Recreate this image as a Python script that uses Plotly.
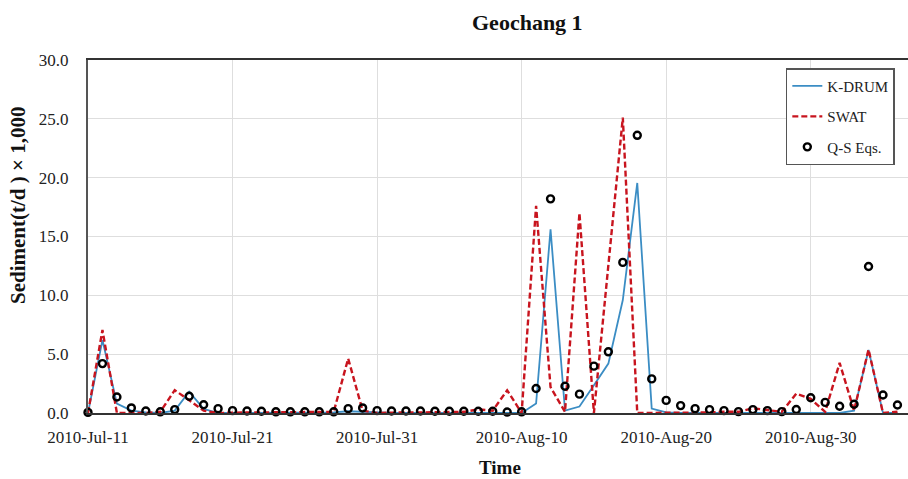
import datetime as dt
import plotly.graph_objects as go

# Daily sediment load (t/d x 1,000), Geochang 1, from 2010-07-11
start = dt.date(2010, 7, 11)
dates = [(start + dt.timedelta(days=i)).isoformat() for i in range(57)]

k_drum = [0, 6.2, 0.8, 0.2, 0.05, 0, 0.2, 1.81, 0.35, 0,
          0, 0, 0, 0, 0, 0, 0, 0.05, 0.15, 0.1,
          0, 0, 0, 0, 0, 0, 0, 0, 0, 0,
          0, 0.8, 15.6, 0.2, 0.55, 2.36, 4.2, 9.6, 19.55, 0.37,
          0.05, 0, 0, 0, 0, 0, 0, 0, 0, 0,
          0, 0, 0, 0.2, 5.35, 0, 0]

swat = [0, 7.05, 0, 0, 0, 0.1, 1.94, 1.08, 0.2, 0,
        0.05, 0.05, 0.05, 0.05, 0.05, 0.05, 0.05, 0.1, 4.63, 0.2,
        0, 0.05, 0.05, 0.05, 0.05, 0.05, 0.1, 0.3, 0.2, 1.93,
        0, 17.6, 2.2, 0.1, 17.0, 0, 12.5, 25.1, 0, 0,
        0, 0, 0, 0.05, 0.1, 0.1, 0.4, 0.25, 0.1, 1.65,
        1.2, 0.1, 4.26, 0.2, 5.4, 0, 0.1]

qs_eqs = [0.05, 4.2, 1.36, 0.43, 0.17, 0.1, 0.29, 1.42, 0.7, 0.37,
          0.2, 0.17, 0.15, 0.1, 0.1, 0.1, 0.1, 0.1, 0.37, 0.43,
          0.2, 0.17, 0.17, 0.17, 0.15, 0.15, 0.15, 0.15, 0.15, 0.08,
          0.1, 2.08, 18.2, 2.27, 1.6, 3.98, 5.2, 12.8, 23.6, 2.9,
          1.07, 0.63, 0.37, 0.29, 0.2, 0.12, 0.29, 0.2, 0.12, 0.3,
          1.3, 0.9, 0.57, 0.74, 12.45, 1.53, 0.68]

SERIF = "Liberation Serif, Times New Roman, serif"

fig = go.Figure()
fig.add_trace(go.Scatter(
    x=dates, y=k_drum, name="K-DRUM", mode="lines", legendgroup="a",
    line=dict(color="#3b8dc4", width=1.8),
))
fig.add_trace(go.Scatter(
    x=dates, y=swat, name="SWAT", mode="lines", legendgroup="b",
    line=dict(color="#c8141e", width=2.4, dash="6px,3px"),
))
fig.add_trace(go.Scatter(
    x=dates, y=qs_eqs, name="Q-S Eqs.", mode="markers", legendgroup="c",
    marker=dict(symbol="circle-open", size=7, color="black",
                line=dict(width=2.4, color="black")),
    cliponaxis=False,
))

x_end = (dt.datetime(2010, 7, 11) + dt.timedelta(days=56.73)).isoformat()

fig.update_layout(
    width=908, height=479,
    margin=dict(l=88, r=0, t=60, b=66),
    plot_bgcolor="white", paper_bgcolor="white",
    font=dict(family=SERIF, size=17, color="#222"),
    showlegend=True,
    legend=dict(
        x=0.851, y=0.977, xanchor="left", yanchor="top",
        bordercolor="#555", borderwidth=1.5, bgcolor="white",
        font=dict(family=SERIF, size=15, color="#222"),
        tracegroupgap=8, itemwidth=30,
    ),
    xaxis=dict(
        type="date", range=["2010-07-11", x_end],
        tick0="2010-07-11", dtick=10 * 86400000, tickformat="%Y-%b-%d",
        showgrid=True, gridcolor="#dedede", gridwidth=1,
        showline=True, linecolor="#333", linewidth=2, mirror=True,
        ticks="outside", ticklen=8, tickcolor="rgba(0,0,0,0)",
        zeroline=False,
    ),
    yaxis=dict(
        range=[0, 30], dtick=5, tickformat=".1f",
        showgrid=True, gridcolor="#dedede", gridwidth=1,
        showline=True, linecolor="#555", linewidth=2,
        ticks="outside", ticklen=14, tickcolor="rgba(0,0,0,0)",
        zeroline=False,
    ),
    annotations=[
        dict(text="<b>Geochang 1</b>", x=527, y=22, showarrow=False,
             font=dict(family=SERIF, size=22, color="#111")),
        dict(text="<b>Time</b>", x=500, y=467, showarrow=False,
             font=dict(family=SERIF, size=19, color="#111")),
        dict(text="<b>Sediment(t/d ) × 1,000</b>", x=18, y=206, textangle=-90,
             showarrow=False, font=dict(family=SERIF, size=21, color="#111")),
    ],
)

# place the free-standing labels in pixel terms of the page
for a in fig.layout.annotations:
    a.xref = "paper"
    a.yref = "paper"
    a.x = (a.x - 88) / 820
    a.y = (479 - 66 - a.y) / (479 - 66 - 60)
    a.xanchor = "center"
    a.yanchor = "middle"

fig.write_html("out.html")
